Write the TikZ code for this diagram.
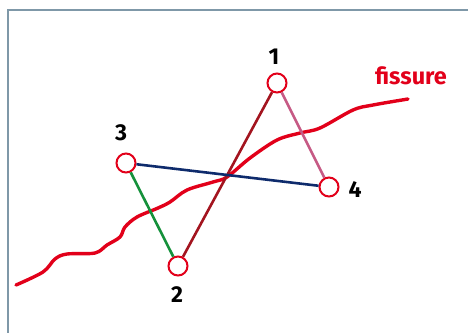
\documentclass[tikz,border=0pt]{standalone}
\usepackage{fontspec}
\setmainfont{Fira Sans}
\usepackage{xcolor}
\usetikzlibrary{positioning}
\definecolor{fissred}{HTML}{E2001A}
\definecolor{frameblue}{HTML}{7F98A8}
\definecolor{darkred}{HTML}{A3141F}
\definecolor{rosy}{HTML}{C65A85}
\definecolor{navy}{HTML}{0E2B6C}
\definecolor{leafgreen}{HTML}{15913B}

\begin{document}
\begin{tikzpicture}[x=1pt, y=-1pt,
  pt/.style={circle, draw=fissred, fill=white, line width=2pt, minimum size=19pt, inner sep=0pt},
  lab/.style={font=\fontsize{23}{23}\selectfont\bfseries, text=black},
  link/.style={line width=2.6pt}]
\useasboundingbox (0,0) rectangle (468,333);
% frame
\draw[frameblue, line width=1.6pt] (468,10) -- (8,10) -- (8,333);
% fissure
\draw[fissred, line width=3.4pt, line cap=round] plot[smooth, tension=0.55] coordinates {
  (16,285) (43,272) (55,259) (67,254) (95,253) (107,245) (120,237) (125,227)
  (137,217) (158,208) (170,202) (187,190) (213,182) (227,177) (250,158)
  (277,140) (300,133) (320,128) (353,110) (373,105) (408,99)};
\node[text=fissred, font=\fontsize{23.5}{23.5}\selectfont\bfseries] (fiss) at (411,76) {fissure};
% points
\node[pt] (p1) at (277,83) {};
\node[pt] (p2) at (178,266) {};
\node[pt] (p3) at (126,163) {};
\node[pt] (p4) at (329,187) {};
\node[lab] (l1) at (274,57) {1};
\node[lab] (l2) at (177,295) {2};
\node[lab] (l3) at (121,133) {3};
\node[lab] (l4) at (355,190) {4};
% links
\draw[link, darkred] (p1) -- (p2);
\draw[link, rosy] (p1) -- (p4);
\draw[link, navy] (p3) -- (p4);
\draw[link, leafgreen] (p3) -- (p2);
\end{tikzpicture}
\end{document}
